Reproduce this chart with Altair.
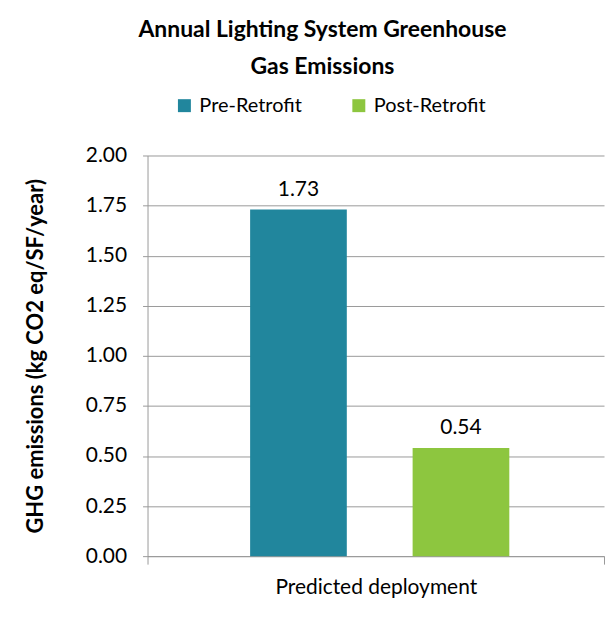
import altair as alt
import pandas as pd

categories = ["Predicted deployment", "Predicted deployment"]
series = ["Pre-Retrofit", "Post-Retrofit"]
values = [1.73, 0.54]
labels = ["1.73", "0.54"]
colors = ["#21869D", "#8DC63F"]
y_ticks = [0, 0.25, 0.5, 0.75, 1.0, 1.25, 1.5, 1.75, 2.0]

FONT = "Lato"
GRID = "#9a9a9a"

df = pd.DataFrame({"category": categories, "series": series, "value": values, "label": labels})

base = alt.Chart(df).encode(
    x=alt.X(
        "category:N",
        scale=alt.Scale(paddingInner=0, paddingOuter=0),
        axis=alt.Axis(title=None, labelAngle=0, labelFontSize=21, labelFont=FONT, labelColor="#000000",
                      labelPadding=12, labelLimit=0, tickSize=8, tickBand="extent", tickColor=GRID,
                      domainColor=GRID, grid=False),
    ),
    xOffset=alt.XOffset("series:N", sort=series,
                        scale=alt.Scale(paddingInner=0.405, paddingOuter=0.607, align=0.52)),
)

bars = base.mark_bar().encode(
    y=alt.Y(
        "value:Q",
        scale=alt.Scale(domain=[0, 2]),
        axis=alt.Axis(values=y_ticks, format=".2f", title="GHG emissions (kg CO2 eq/SF/year)",
                      titleFont=FONT, titleFontSize=22, titleFontWeight="bold", titleColor="#000000",
                      titlePadding=38, labelFont=FONT, labelFontSize=21, labelColor="#000000",
                      labelPadding=16, tickSize=5, tickColor=GRID, domainColor=GRID,
                      grid=True, gridColor=GRID),
    ),
    color=alt.Color(
        "series:N", sort=series,
        scale=alt.Scale(domain=series, range=colors),
        legend=alt.Legend(orient="none", legendX=27, legendY=-60, direction="horizontal",
                          title=None, symbolType="square", symbolSize=169, symbolStrokeWidth=0,
                          labelFont=FONT, labelFontSize=20, labelColor="#000000",
                          columnPadding=47, labelOffset=5),
    ),
)

text = base.mark_text(baseline="bottom", dy=-10, fontSize=21, font=FONT, color="#000000").encode(
    y=alt.Y("value:Q"),
    text="label:N",
)

chart = (
    alt.layer(bars, text)
    .properties(
        width=458,
        height=402,
        title=alt.Title(["Annual Lighting System Greenhouse", "Gas Emissions"], font=FONT,
                        fontSize=23, fontWeight="bold", color="#000000", lineHeight=37,
                        anchor="middle", frame="bounds", offset=17, dx=8),
        padding={"left": 16, "top": 10, "right": 0, "bottom": 0},
    )
    .configure_view(stroke=None)
)

chart.save("out.html", embed_options={"renderer": "svg", "actions": False})
